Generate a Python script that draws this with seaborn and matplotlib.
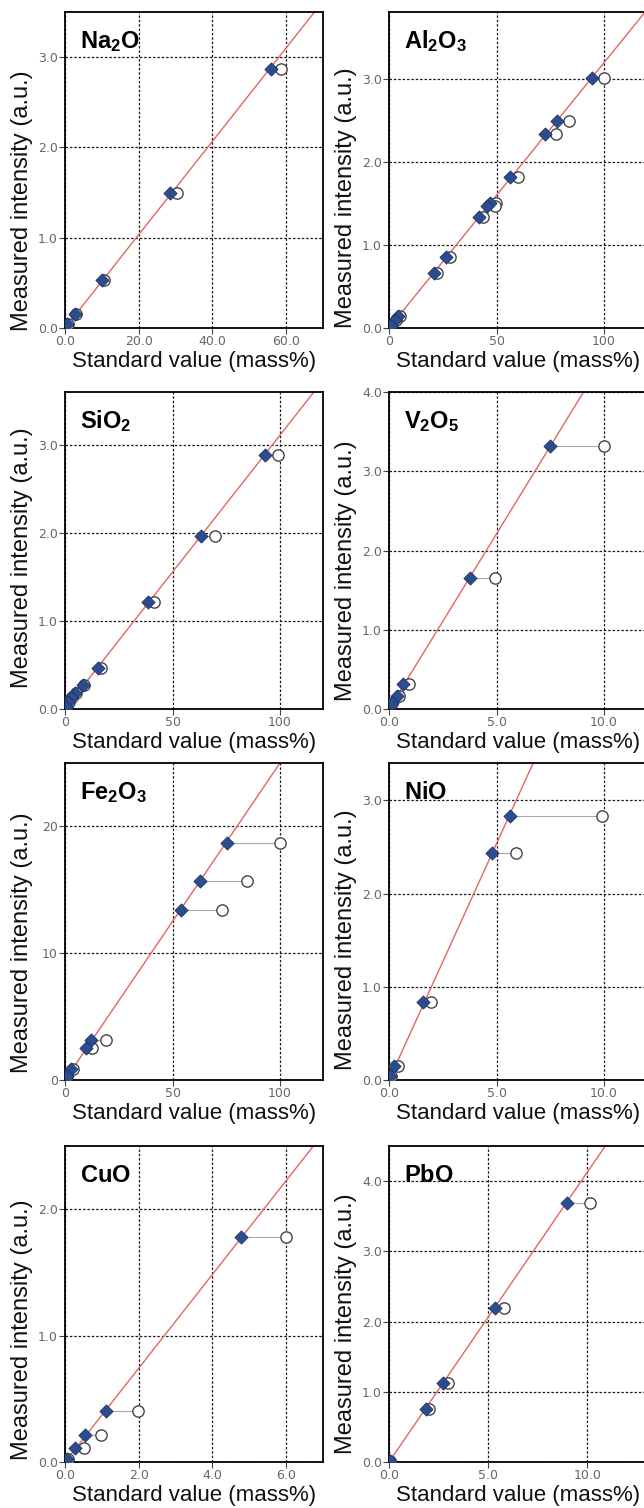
import matplotlib
matplotlib.use('Agg')
import matplotlib.pyplot as plt
import seaborn as sns
import pandas as pd
from matplotlib.ticker import FormatStrFormatter

# ---------------- data ----------------
titles = [r'$\mathbf{Na_2O}$', r'$\mathbf{Al_2O_3}$', r'$\mathbf{SiO_2}$', r'$\mathbf{V_2O_5}$',
          r'$\mathbf{Fe_2O_3}$', r'$\mathbf{NiO}$', r'$\mathbf{CuO}$', r'$\mathbf{PbO}$']

na2o_y = [2.87, 1.49, 0.53, 0.15, 0.04]
na2o_diamond_x = [55.8, 28.6, 10.0, 2.8, 0.6]
na2o_circle_x = [58.5, 30.3, 10.6, 3.1, 0.8]
na2o_slope = 0.0517

al2o3_y = [3.01, 2.49, 2.33, 1.81, 1.50, 1.47, 1.34, 0.85, 0.66, 0.15, 0.10, 0.03]
al2o3_diamond_x = [94.5, 78.1, 72.6, 56.2, 47.0, 45.5, 41.9, 26.6, 20.9, 4.4, 3.0, 0.8]
al2o3_circle_x = [100.1, 83.6, 77.8, 60.1, 49.7, 49.5, 43.9, 28.4, 22.4, 4.9, 3.3, 1.0]
al2o3_slope = 0.0319

sio2_y = [2.88, 1.97, 1.21, 0.47, 0.27, 0.18, 0.14, 0.08, 0.02]
sio2_diamond_x = [93.1, 63.4, 38.6, 15.2, 8.6, 4.7, 3.0, 1.5, 0.3]
sio2_circle_x = [99.3, 69.6, 41.5, 16.9, 9.0, 5.2, 3.3, 1.7, 0.4]
sio2_slope = 0.0311

v2o5_y = [3.32, 1.65, 0.31, 0.16, 0.07]
v2o5_diamond_x = [7.49, 3.78, 0.65, 0.36, 0.13]
v2o5_circle_x = [10.0, 4.95, 0.91, 0.45, 0.16]
v2o5_slope = 0.442

fe2o3_y = [18.7, 15.7, 13.4, 3.17, 2.55, 0.85, 0.3]
fe2o3_diamond_x = [75.3, 62.8, 53.9, 12.3, 9.7, 2.6, 0.8]
fe2o3_circle_x = [100.0, 84.6, 72.9, 19.0, 12.5, 3.8, 1.0]
fe2o3_slope = 0.25

nio_y = [2.83, 2.44, 0.84, 0.15, 0.04]
nio_diamond_x = [5.65, 4.77, 1.60, 0.24, 0.05]
nio_circle_x = [9.93, 5.89, 1.94, 0.42, 0.07]
nio_slope = 0.507

cuo_y = [1.78, 0.40, 0.21, 0.11, 0.02]
cuo_diamond_x = [4.78, 1.12, 0.55, 0.28, 0.05]
cuo_circle_x = [6.0, 1.97, 0.98, 0.52, 0.07]
cuo_slope = 0.371

pbo_y = [3.69, 2.19, 1.13, 0.76, 0.02]
pbo_diamond_x = [8.98, 5.34, 2.71, 1.87, 0.05]
pbo_circle_x = [10.12, 5.81, 2.97, 2.02, 0.06]
pbo_slope = 0.413

xlims = [70, 120, 120, 12, 120, 12, 7, 13]
ylims = [3.5, 3.8, 3.6, 4.0, 25, 3.4, 2.5, 4.5]
xticks = [[0, 20, 40, 60], [0, 50, 100], [0, 50, 100], [0, 5, 10],
          [0, 50, 100], [0, 5, 10], [0, 2, 4, 6], [0, 5, 10]]
yticks = [[0, 1, 2, 3], [0, 1, 2, 3], [0, 1, 2, 3], [0, 1, 2, 3, 4],
          [0, 10, 20], [0, 1, 2, 3], [0, 1, 2], [0, 1, 2, 3, 4]]
xfmt = ['%.1f', '%d', '%d', '%.1f', '%d', '%.1f', '%.1f', '%.1f']
yfmt = ['%.1f', '%.1f', '%.1f', '%.1f', '%d', '%.1f', '%.1f', '%.1f']

xlabel_text = 'Standard value (mass%)'
ylabel_text = 'Measured intensity (a.u.)'

panels = [
    (na2o_y, na2o_diamond_x, na2o_circle_x, na2o_slope),
    (al2o3_y, al2o3_diamond_x, al2o3_circle_x, al2o3_slope),
    (sio2_y, sio2_diamond_x, sio2_circle_x, sio2_slope),
    (v2o5_y, v2o5_diamond_x, v2o5_circle_x, v2o5_slope),
    (fe2o3_y, fe2o3_diamond_x, fe2o3_circle_x, fe2o3_slope),
    (nio_y, nio_diamond_x, nio_circle_x, nio_slope),
    (cuo_y, cuo_diamond_x, cuo_circle_x, cuo_slope),
    (pbo_y, pbo_diamond_x, pbo_circle_x, pbo_slope),
]

# ---------------- style ----------------
sns.set_theme(style='white')
plt.rcParams['font.family'] = ['Liberation Sans', 'DejaVu Sans']
plt.rcParams['mathtext.fontset'] = 'custom'
plt.rcParams['mathtext.rm'] = 'Liberation Sans'
plt.rcParams['mathtext.bf'] = 'Liberation Sans:bold'
plt.rcParams['mathtext.it'] = 'Liberation Sans:italic'

W, H = 644, 1508
fig = plt.figure(figsize=(W / 100, H / 100), dpi=100)
fig.patch.set_facecolor('white')

col_left = [65, 389]
ax_w = 258
rows = [(12, 328), (392, 709), (763, 1080), (1146, 1462)]
ylabel_y = [0.403, 0.413, 0.477, 0.436, 0.432, 0.442, 0.418, 0.437]

DIAMOND = '#2b4c8f'
RED = '#e46662'

for i, (yv, dx, cx, slope) in enumerate(panels):
    r, c = divmod(i, 2)
    top, bot = rows[r]
    ax = fig.add_axes([col_left[c] / W, 1 - bot / H, ax_w / W, (bot - top) / H])
    ax.set_facecolor('white')
    df = pd.DataFrame({'y': yv, 'dx': dx, 'cx': cx})

    ax.axline((0, 0), slope=slope, color=RED, lw=1.0, zorder=2)
    ax.hlines(df['y'], df['dx'], df['cx'], color='#a8a8a8', lw=0.8, zorder=3)
    sns.scatterplot(data=df, x='cx', y='y', ax=ax, marker='o', s=66,
                    facecolor='white', edgecolor='#444444', linewidth=1.0, zorder=4)
    sns.scatterplot(data=df, x='dx', y='y', ax=ax, marker='D', s=46,
                    color=DIAMOND, edgecolor='#1b2d5c', linewidth=0.5, zorder=5)

    ax.set_xlim(0, xlims[i])
    ax.set_ylim(0, ylims[i])
    ax.set_xticks(xticks[i])
    ax.set_yticks(yticks[i])
    ax.xaxis.set_major_formatter(FormatStrFormatter(xfmt[i]))
    ax.yaxis.set_major_formatter(FormatStrFormatter(yfmt[i]))
    ax.grid(True, color='#1a1a1a', linestyle=(0, (2.0, 1.5)), linewidth=0.9)
    ax.set_axisbelow(True)
    ax.tick_params(axis='both', direction='out', length=4, width=0.8, color='#444444',
                   labelsize=9, labelcolor='#666666', pad=1.2, bottom=True, left=True)
    for lab in ax.get_xticklabels() + ax.get_yticklabels():
        lab.set_family('DejaVu Sans')
    for sp in ax.spines.values():
        sp.set_color('black')
        sp.set_linewidth(1.3)

    ax.set_xlabel(xlabel_text, fontsize=16, color='#111111', va='top')
    ax.xaxis.set_label_coords(0.5, -0.072)
    ax.set_ylabel(ylabel_text, fontsize=17, color='#111111')
    ax.yaxis.set_label_coords(-0.125, ylabel_y[i])

    ax.text(0.058, 0.886, titles[i], transform=ax.transAxes, fontsize=17,
            ha='left', va='baseline', color='black', zorder=6)

fig.savefig('out.png', dpi=100, facecolor='white')
